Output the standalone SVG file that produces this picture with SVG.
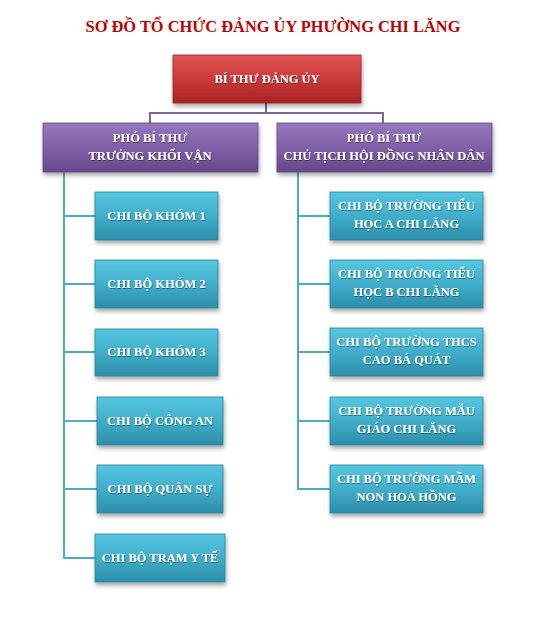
<svg xmlns="http://www.w3.org/2000/svg" width="547" height="622" viewBox="0 0 547 622">
<defs>
<linearGradient id="gRed" x1="0" y1="0" x2="0" y2="1"><stop offset="0" stop-color="#E05555"/><stop offset="0.5" stop-color="#CC3A3A"/><stop offset="1" stop-color="#A82222"/></linearGradient>
<linearGradient id="gPur" x1="0" y1="0" x2="0" y2="1"><stop offset="0" stop-color="#9678BE"/><stop offset="0.5" stop-color="#7F60A8"/><stop offset="1" stop-color="#664889"/></linearGradient>
<linearGradient id="gTeal" x1="0" y1="0" x2="0" y2="1"><stop offset="0" stop-color="#56C6E0"/><stop offset="0.5" stop-color="#41AECB"/><stop offset="1" stop-color="#2C8EA9"/></linearGradient>
<filter id="sh" x="-10%" y="-10%" width="125%" height="140%"><feDropShadow dx="1" dy="3" stdDeviation="2" flood-color="#000" flood-opacity="0.35"/></filter>
<filter id="tsh" x="-5%" y="-20%" width="110%" height="150%"><feDropShadow dx="0.5" dy="1" stdDeviation="0.6" flood-color="#000" flood-opacity="0.45"/></filter>
</defs>
<style>
.t{font-family:"Liberation Serif","Times New Roman",serif;font-weight:bold;font-size:12.5px;fill:#fff;text-anchor:middle}
.title{font-family:"Liberation Serif","Times New Roman",serif;font-weight:bold;font-size:16.4px;fill:#C00000;text-anchor:middle}
.red{fill:url(#gRed);stroke:#9A2020;stroke-width:0.8}
.pur{fill:url(#gPur);stroke:#5E4582;stroke-width:0.8}
.teal{fill:url(#gTeal);stroke:#2A8099;stroke-width:0.8}
.lp{fill:none;stroke:#7F63A1;stroke-width:2}
.lt{fill:none;stroke:#4BACC6;stroke-width:2}
</style>
<rect width="547" height="622" fill="#fff"/>
<text class="title" x="273" y="32">SƠ ĐỒ TỔ CHỨC ĐẢNG ỦY PHƯỜNG CHI LĂNG</text>

<g id="connectors">
<path class="lp" d="M266 103V113M150 123V113H383V123"/>
<path class="lt" d="M64 172V558H95M64 216H95M64 284H95M64 352H97M64 421H97M64 489H97"/>
<path class="lt" d="M298 172V489H330M298 216H330M298 284H330M298 352H330M298 421H330"/>
</g>

<g id="n0"><rect class="red" x="173" y="55" width="188" height="48" filter="url(#sh)"/><text class="t" x="267" y="83" filter="url(#tsh)">BÍ THƯ ĐẢNG ỦY</text></g>

<g id="n1"><rect class="pur" x="43" y="123" width="215" height="49" filter="url(#sh)"/><text class="t" x="150" y="142" filter="url(#tsh)">PHÓ BÍ THƯ</text><text class="t" x="150" y="160" filter="url(#tsh)">TRƯỞNG KHỐI VẬN</text></g>
<g id="n2"><rect class="pur" x="277" y="123" width="215" height="49" filter="url(#sh)"/><text class="t" x="384" y="142" filter="url(#tsh)">PHÓ BÍ THƯ</text><text class="t" x="384" y="160" filter="url(#tsh)">CHỦ TỊCH HỘI ĐỒNG NHÂN DÂN</text></g>

<g id="l1"><rect class="teal" x="95" y="192" width="123" height="48" filter="url(#sh)"/><text class="t" x="156.5" y="220" filter="url(#tsh)">CHI BỘ KHÓM 1</text></g>
<g id="l2"><rect class="teal" x="95" y="260" width="123" height="48" filter="url(#sh)"/><text class="t" x="156.5" y="288" filter="url(#tsh)">CHI BỘ KHÓM 2</text></g>
<g id="l3"><rect class="teal" x="95" y="329" width="123" height="47" filter="url(#sh)"/><text class="t" x="156.5" y="356" filter="url(#tsh)">CHI BỘ KHÓM 3</text></g>
<g id="l4"><rect class="teal" x="97" y="397" width="126" height="48" filter="url(#sh)"/><text class="t" x="160" y="425" filter="url(#tsh)">CHI BỘ CÔNG AN</text></g>
<g id="l5"><rect class="teal" x="97" y="465" width="126" height="48" filter="url(#sh)"/><text class="t" x="160" y="493" filter="url(#tsh)">CHI BỘ QUÂN SỰ</text></g>
<g id="l6"><rect class="teal" x="95" y="534" width="130" height="48" filter="url(#sh)"/><text class="t" x="160" y="562" filter="url(#tsh)">CHI BỘ TRẠM Y TẾ</text></g>

<g id="r1"><rect class="teal" x="330" y="192" width="153" height="48" filter="url(#sh)"/><text class="t" x="406.5" y="210" filter="url(#tsh)">CHI BỘ TRƯỜNG TIỂU</text><text class="t" x="406.5" y="228" filter="url(#tsh)">HỌC A CHI LĂNG</text></g>
<g id="r2"><rect class="teal" x="330" y="260" width="153" height="48" filter="url(#sh)"/><text class="t" x="406.5" y="278" filter="url(#tsh)">CHI BỘ TRƯỜNG TIỂU</text><text class="t" x="406.5" y="296" filter="url(#tsh)">HỌC B CHI LĂNG</text></g>
<g id="r3"><rect class="teal" x="330" y="328" width="153" height="48" filter="url(#sh)"/><text class="t" x="406.5" y="346" filter="url(#tsh)">CHI BỘ TRƯỜNG THCS</text><text class="t" x="406.5" y="364" filter="url(#tsh)">CAO BÁ QUÁT</text></g>
<g id="r4"><rect class="teal" x="330" y="397" width="153" height="48" filter="url(#sh)"/><text class="t" x="406.5" y="415" filter="url(#tsh)">CHI BỘ TRƯỜNG MẪU</text><text class="t" x="406.5" y="433" filter="url(#tsh)">GIÁO CHI LĂNG</text></g>
<g id="r5"><rect class="teal" x="330" y="465" width="153" height="48" filter="url(#sh)"/><text class="t" x="406.5" y="483" filter="url(#tsh)">CHI BỘ TRƯỜNG MẦM</text><text class="t" x="406.5" y="501" filter="url(#tsh)">NON HOA HỒNG</text></g>
</svg>
